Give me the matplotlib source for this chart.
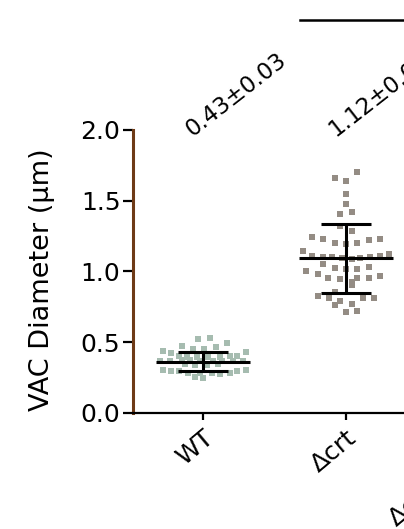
import matplotlib.pyplot as plt

plt.rcParams['font.family'] = ['DejaVu Sans']

# Data
groups = ['WT', 'Δcrt', 'Δcrt+pCRT']
annotations = ['0.43±0.03', '1.12±0.07']

wt_x = [-0.033, 0.049, -0.149, -0.072, 0.009, 0.089, 0.168, -0.277, -0.224, -0.166,
        -0.110, -0.044, 0.037, 0.119, 0.189, 0.240, 0.298, -0.301, -0.231, -0.149,
        -0.091, -0.021, 0.072, 0.131, 0.212, 0.282, -0.126, -0.056, 0.026, 0.107,
        -0.277, -0.224, -0.166, -0.103, -0.021, 0.061, 0.119, 0.189, 0.240, 0.298,
        -0.056, 0.002]
wt_y = [0.523, 0.532, 0.476, 0.455, 0.455, 0.466, 0.495, 0.436, 0.424, 0.405,
        0.394, 0.394, 0.394, 0.394, 0.403, 0.405, 0.433, 0.365, 0.365, 0.375,
        0.375, 0.365, 0.365, 0.365, 0.365, 0.365, 0.346, 0.339, 0.339, 0.346,
        0.304, 0.297, 0.297, 0.280, 0.285, 0.285, 0.273, 0.285, 0.297, 0.304,
        0.252, 0.245]

crt_x = [1.079, 0.923, 1.0, 1.0, 1.0, 0.960, 1.040, 0.960, 1.040, 0.764,
         0.841, 0.923, 1.0, 1.079, 1.159, 1.238, 0.701, 0.764, 0.841, 0.904,
         0.970, 1.040, 1.098, 1.168, 1.238, 1.303, 0.841, 0.718, 0.802, 0.923,
         1.0, 1.079, 1.159, 0.876, 0.960, 1.040, 1.079, 1.159, 1.238, 1.040,
         0.923, 0.802, 0.881, 0.960, 1.121, 1.196, 0.923, 1.040, 1.0, 1.079]
crt_y = [1.701, 1.663, 1.642, 1.545, 1.475, 1.404, 1.423, 1.324, 1.286, 1.244,
         1.232, 1.204, 1.192, 1.204, 1.223, 1.232, 1.145, 1.112, 1.105, 1.105,
         1.093, 1.086, 1.093, 1.105, 1.110, 1.122, 1.053, 1.004, 0.980, 1.023,
         1.016, 1.016, 1.034, 0.952, 0.947, 0.928, 0.952, 0.952, 0.970, 0.902,
         0.855, 0.829, 0.815, 0.792, 0.811, 0.815, 0.763, 0.772, 0.712, 0.721]

means = [0.363, 1.093]
sds = [0.066, 0.244]

fig = plt.figure(figsize=(4.04, 5.29), dpi=100)
ax = fig.add_axes([0.329, 0.2193, 1.412, 0.535])

ax.plot(wt_x, wt_y, 's', color='#a6bcb0', markersize=4.5, markeredgewidth=0)
ax.plot(crt_x, crt_y, 's', color='#948c84', markersize=4.5, markeredgewidth=0)

# mean and SD bars
for i, (m, s) in enumerate(zip(means, sds)):
    ax.hlines(m, i - 0.33, i + 0.33, color='black', lw=2.2)
    ax.hlines([m - s, m + s], i - 0.175, i + 0.175, color='black', lw=2.2)
    ax.vlines(i, m - s, m + s, color='black', lw=2.2)

for i, t in enumerate(annotations):
    ax.text(i - 0.05, 1.92, t, rotation=38, rotation_mode='anchor',
            ha='left', va='bottom', fontsize=16.5, clip_on=False)

# bracket line at the top
ax.plot([0.68, 3.0], [2.78, 2.78], color='black', lw=1.8, clip_on=False)

ax.set_xlim(-0.49, 3.5)
ax.set_ylim(0, 2.0)
ax.set_yticks([0, 0.5, 1.0, 1.5, 2.0])
ax.set_yticklabels(['0.0', '0.5', '1.0', '1.5', '2.0'], fontsize=18)
ax.set_xticks(range(len(groups)))
ax.set_xticklabels(groups, rotation=40, ha='right', va='top',
                   rotation_mode='anchor', fontsize=18)
ax.set_ylabel('VAC Diameter (μm)', fontsize=19.5)
ax.yaxis.set_label_coords(-0.137, 0.472)

for side in ['top', 'right']:
    ax.spines[side].set_visible(False)
ax.spines['left'].set_color('#6e3a16')
ax.spines['left'].set_linewidth(2.2)
ax.spines['bottom'].set_linewidth(1.6)
ax.tick_params(axis='y', length=7, width=1.6, pad=2)
ax.tick_params(axis='x', length=5, width=1.6, pad=4)

fig.savefig('out.png', dpi=100)
